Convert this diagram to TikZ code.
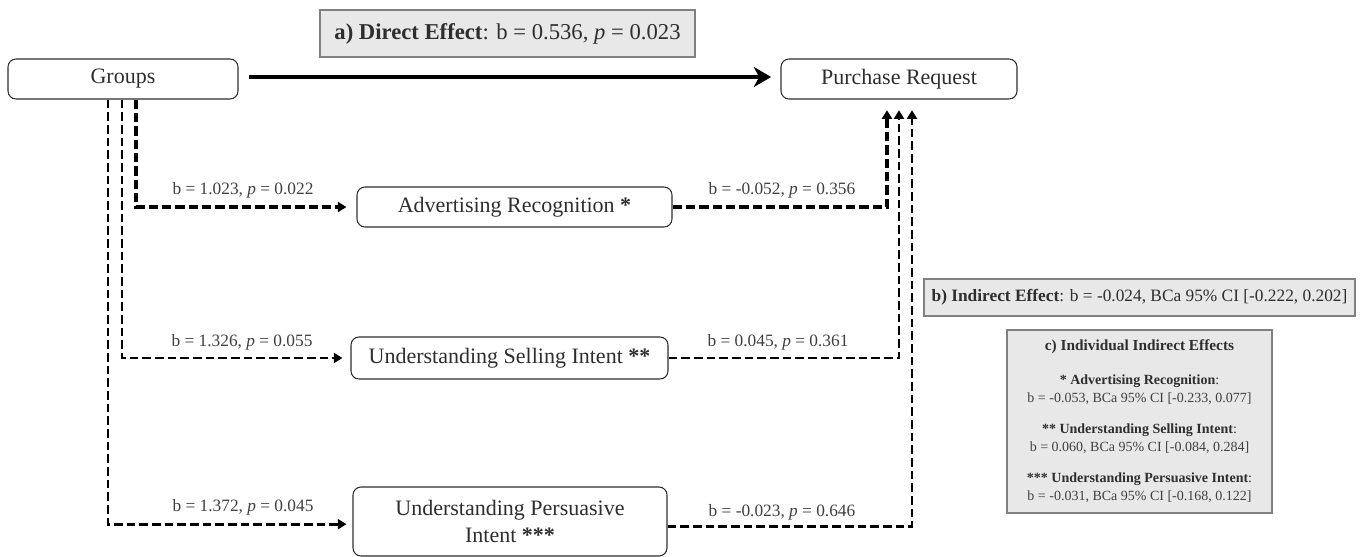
\documentclass[tikz,border=0pt]{standalone}
\usepackage{fontspec}
\setmainfont{Liberation Serif}
\usetikzlibrary{arrows.meta,calc}
\definecolor{txt}{HTML}{2E2E2E}
\definecolor{lbl}{HTML}{404040}
\definecolor{boxfill}{HTML}{E8E8E8}
\definecolor{boxline}{HTML}{808080}
\tikzset{
  varbox/.style={draw=txt, line width=0.8pt, rounded corners=6pt, fill=white, text=txt,
    font=\fontsize{16.5}{20}\selectfont, inner sep=0pt, align=center},
  infobox/.style={draw=boxline, line width=0.9pt, fill=boxfill, text=txt, inner sep=0pt, align=center},
  lab/.style={text=lbl, font=\fontsize{13}{15}\selectfont, inner sep=0pt},
  dsh/.style={line width=2.2pt, dash pattern=on 6.5pt off 3pt, -{Triangle[length=6.5pt,width=7.5pt]}},
  thickdsh/.style={line width=3pt, dash pattern=on 7pt off 3pt, -{Triangle[length=6.5pt,width=7.5pt]}},
  solidarrow/.style={line width=3pt, -{Stealth[length=13pt,width=15pt,inset=4pt]}}
}
\begin{document}
\begin{tikzpicture}[x=0.75pt,y=-0.75pt]
\useasboundingbox (0,0) rectangle (1365,557);
% variable boxes
\node[varbox, minimum width=172.5pt, minimum height=30pt] (groups) at (123,79) {Groups};
\node[varbox, minimum width=177pt, minimum height=30pt] (purchase) at (899,79) {Purchase Request};
\node[varbox, minimum width=236.25pt, minimum height=30pt] (adv) at (514.5,207) {Advertising Recognition \textbf{*}};
\node[varbox, minimum width=237.75pt, minimum height=31.5pt] (sell) at (509.5,358) {Understanding Selling Intent \textbf{**}};
\node[varbox, minimum width=235.5pt, minimum height=51.75pt] (pers) at (510,521.5) {Understanding Persuasive\\Intent \textbf{***}};
% info boxes
\node[infobox, minimum width=281.25pt, minimum height=35.25pt, font=\fontsize{17}{20}\selectfont] (direct) at (507.5,33.5)
  {\textbf{a) Direct Effect}: b = 0.536, \textit{p} = 0.023};
\node[infobox, minimum width=323.25pt, minimum height=27.75pt, font=\fontsize{13}{15}\selectfont] (indirect) at (1139.5,297.5)
  {\textbf{b) Indirect Effect}: b = -0.024, BCa 95\% CI [-0.222, 0.202]};
\node[infobox, minimum width=198.75pt, minimum height=137.25pt, font=\fontsize{10.5}{13.5}\selectfont] (indiv) at (1139.5,421.5)
  {{\fontsize{11.5}{13.5}\selectfont\textbf{c) Individual Indirect Effects}}\\[12pt]
   \textbf{* Advertising Recognition}:\\
   {\color{lbl}b = -0.053, BCa 95\% CI [-0.233, 0.077]}\\[9.75pt]
   \textbf{** Understanding Selling Intent}:\\
   {\color{lbl}b = 0.060, BCa 95\% CI [-0.084, 0.284]}\\[9.75pt]
   \textbf{*** Understanding Persuasive Intent}:\\
   {\color{lbl}b = -0.031, BCa 95\% CI [-0.168, 0.122]}};
% connectors
\draw[solidarrow] ([xshift=8pt,yshift=1.5pt]groups.east) -- ([xshift=-7pt,yshift=1.5pt]purchase.west);
\draw[thickdsh] ([xshift=9.75pt]groups.south) |- ([xshift=-7.5pt]adv.west);
\draw[dsh] ([xshift=-0.75pt]groups.south) |- ([xshift=-6pt]sell.west);
\draw[dsh] ([xshift=-11.25pt]groups.south) |- ([xshift=-4.5pt,yshift=-2pt]pers.west);
\draw[thickdsh] (adv.east) -| ([xshift=-9pt,yshift=-8pt]purchase.south);
\draw[dsh] (sell.east) -| ([yshift=-8pt]purchase.south);
\draw[dsh] ([yshift=-3.4pt]pers.east) -| ([xshift=9.75pt,yshift=-8pt]purchase.south);
% labels
\node[lab] (l1) at (243,190) {b = 1.023, \textit{p} = 0.022};
\node[lab] (l2) at (782,190) {b = -0.052, \textit{p} = 0.356};
\node[lab] (l3) at (242,342) {b = 1.326, \textit{p} = 0.055};
\node[lab] (l4) at (778,342) {b = 0.045, \textit{p} = 0.361};
\node[lab] (l5) at (243,507) {b = 1.372, \textit{p} = 0.045};
\node[lab] (l6) at (782,512) {b = -0.023, \textit{p} = 0.646};
\end{tikzpicture}
\end{document}
